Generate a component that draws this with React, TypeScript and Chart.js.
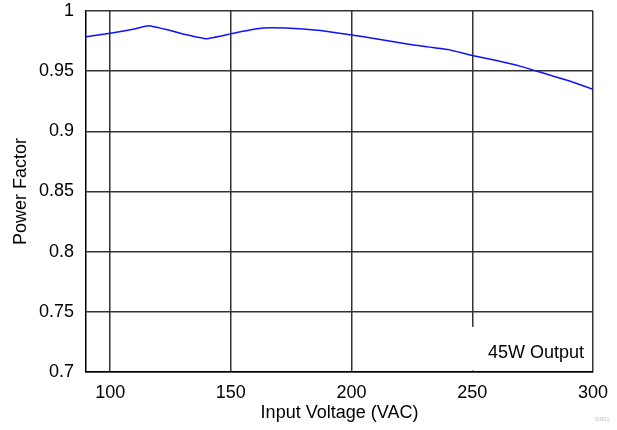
import React, { useEffect, useRef } from "react";
import { Chart, registerables } from "chart.js";

Chart.register(...registerables);

const inputVoltage = [90, 100, 110, 116, 125, 130, 140, 150, 160, 167, 180, 190, 200, 210, 225, 240, 250, 260, 270, 280, 290, 300];
const powerFactor = [0.9785, 0.9815, 0.985, 0.9878, 0.9838, 0.981, 0.977, 0.981, 0.985, 0.986, 0.985, 0.983, 0.98, 0.977, 0.972, 0.968, 0.963, 0.9588, 0.954, 0.948, 0.942, 0.935];
const xTicks = [100, 150, 200, 250, 300];
const yTicks = [0.7, 0.75, 0.8, 0.85, 0.9, 0.95, 1];
const xTitle = "Input Voltage (VAC)";
const yTitle = "Power Factor";
const noteText = "45W Output";
const figId = "G001";

const FONT = "'Liberation Sans', Arial, sans-serif";
const FS = 18;

export default function App() {
  const ref = useRef<HTMLCanvasElement>(null);
  useEffect(() => {
    const canvas = ref.current;
    if (!canvas) return;
    const notePlugin = {
      id: "note",
      beforeDatasetsDraw(chart: any) {
        const { ctx, chartArea } = chart;
        const ys = chart.scales.y;
        const top = ys.getPixelForValue(0.7375);
        ctx.save();
        ctx.fillStyle = "#ffffff";
        ctx.fillRect(chartArea.left + 300, top, chartArea.right - chartArea.left - 302, chartArea.bottom - top - 1.5);
        ctx.fillStyle = "#000";
        ctx.font = `${FS}px ${FONT}`;
        ctx.textAlign = "right";
        ctx.textBaseline = "middle";
        ctx.fillText(noteText, chartArea.right - 9, chartArea.bottom - 19);
        ctx.restore();
      },
      afterDraw(chart: any) {
        const { ctx, chartArea } = chart;
        ctx.save();
        ctx.fillStyle = "#c0c0c0";
        ctx.font = `6px ${FONT}`;
        ctx.textAlign = "left";
        ctx.textBaseline = "middle";
        ctx.fillText(figId, chartArea.right + 2, chartArea.bottom + 47);
        ctx.restore();
      },
    };
    const chart = new Chart(canvas, {
      type: "line",
      data: {
        datasets: [
          {
            data: inputVoltage.map((x, i) => ({ x, y: powerFactor[i] })),
            borderColor: "#1010ff",
            borderWidth: 1.5,
            pointRadius: 0,
            tension: 0.12,
            fill: false,
          },
        ],
      },
      options: {
        animation: false,
        responsive: false,
        events: [],
        layout: { padding: { left: 0, right: 24, top: 11, bottom: 0 } },
        plugins: { legend: { display: false }, tooltip: { enabled: false } },
        scales: {
          x: {
            type: "linear",
            min: 90,
            max: 300,
            afterBuildTicks: (s: any) => {
              s.ticks = xTicks.map((v) => ({ value: v }));
            },
            afterFit: (s: any) => {
              s.height = 58;
              s.paddingLeft = 0;
              s.paddingRight = 0;
            },
            grid: { color: "#333333", lineWidth: 1.5, drawTicks: false },
            border: { color: "#000000", width: 1.5 },
            ticks: { color: "#000", font: { family: FONT, size: FS }, padding: 10, maxRotation: 0 },
            title: { display: true, text: xTitle, color: "#000", font: { family: FONT, size: FS }, padding: { top: 0, bottom: 6 } },
          },
          y: {
            type: "linear",
            min: 0.7,
            max: 1,
            afterBuildTicks: (s: any) => {
              s.ticks = yTicks.map((v) => ({ value: v }));
            },
            afterFit: (s: any) => {
              s.width = 86;
              s.paddingTop = 0;
              s.paddingBottom = 0;
            },
            grid: { color: "#333333", lineWidth: 1.5, drawTicks: false },
            border: { color: "#000000", width: 1.5 },
            ticks: {
              color: "#000",
              font: { family: FONT, size: FS },
              padding: 12,
              callback: (v: any) => String(Number(Number(v).toFixed(2))),
            },
            title: { display: true, text: yTitle, color: "#000", font: { family: FONT, size: FS }, padding: { top: 10, bottom: 0 } },
          },
        },
      },
      plugins: [notePlugin],
    });
    return () => chart.destroy();
  }, []);
  return (
    <div style={{ position: "fixed", left: 0, top: 0, width: 617, height: 430, background: "#fff" }}>
      <canvas ref={ref} width={617} height={430} style={{ display: "block", width: 617, height: 430 }} />
    </div>
  );
}
